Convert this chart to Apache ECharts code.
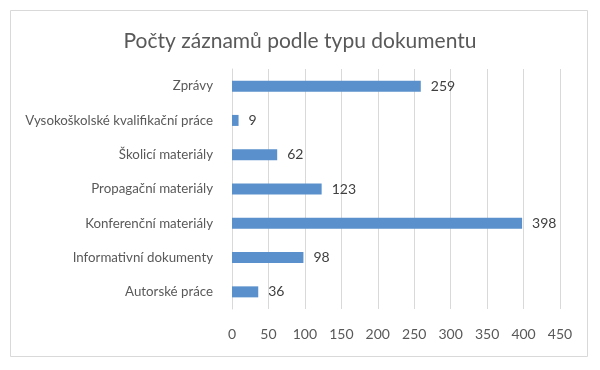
<!DOCTYPE html>
<html><head><meta charset="utf-8">
<script src="https://cdn.jsdelivr.net/npm/echarts@6/dist/echarts.min.js"></script>
<style>html,body{margin:0;padding:0;background:#fff}#c{width:600px;height:370px}</style>
</head><body><div id="c"></div>
<script>
const titleText = "Počty záznamů podle typu dokumentu";
const categories = ["Zprávy","Vysokoškolské kvalifikační práce","Školicí materiály","Propagační materiály","Konferenční materiály","Informativní dokumenty","Autorské práce"];
const values = [259, 9, 62, 123, 398, 98, 36];
const xTicks = [0,50,100,150,200,250,300,350,400,450];

const font = "Lato";
const chart = echarts.init(document.getElementById('c'));
chart.setOption({
  animation:false,
  backgroundColor:'#fff',
  title:{text:titleText,left:'center',top:26,textStyle:{fontFamily:font,fontSize:21,fontWeight:'normal',color:'#595959'}},
  graphic:[{type:'rect',shape:{x:10.5,y:10.5,width:577,height:346},style:{fill:'none',stroke:'#d9d9d9',lineWidth:1}}],
  grid:{left:232,right:40,top:69,bottom:61},
  xAxis:{type:'value',min:xTicks[0],max:xTicks[xTicks.length-1],interval:50,
    axisLine:{show:false},axisTick:{show:false},
    splitLine:{lineStyle:{color:'#d9d9d9'}},
    axisLabel:{margin:18,fontFamily:font,fontSize:14,color:'#595959'}},
  yAxis:{type:'category',data:categories,inverse:true,
    axisLine:{show:true,lineStyle:{color:'#d9d9d9'}},axisTick:{show:false},
    axisLabel:{margin:19,fontFamily:font,fontSize:13.3,color:'#595959'}},
  series:[{type:'bar',data:values,barWidth:11,itemStyle:{color:'#5a91cc'},
    label:{show:true,position:'right',distance:10,fontFamily:font,fontSize:14,color:'#404040'}}]
});
</script></body></html>
